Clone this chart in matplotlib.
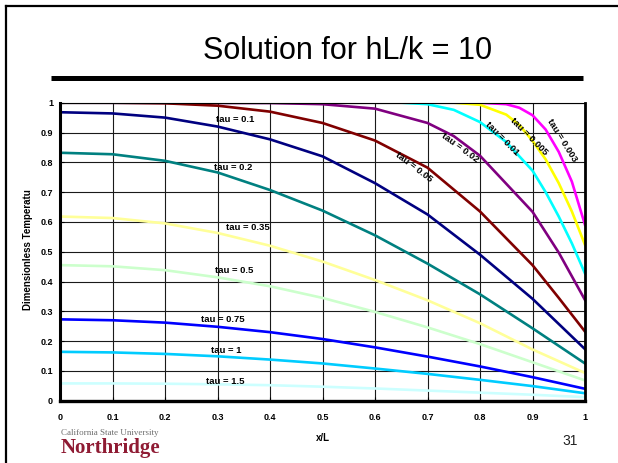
import matplotlib
matplotlib.use("Agg")
import matplotlib.pyplot as plt
from matplotlib.lines import Line2D

# ---------------- data ----------------
x_grid = [0, 0.1, 0.2, 0.3, 0.4, 0.5, 0.6, 0.7, 0.8, 0.9, 1.0]

x_tau0003 = [0, 0.8, 0.85, 0.875, 0.9, 0.925, 0.95, 0.975, 1.0]
y_tau0003 = [1.0, 1.0, 0.995, 0.983, 0.958, 0.91, 0.835, 0.735, 0.59]

x_tau0005 = [0, 0.75, 0.8, 0.85, 0.875, 0.9, 0.925, 0.95, 0.975, 1.0]
y_tau0005 = [1.0, 1.0, 0.993, 0.96, 0.925, 0.872, 0.81, 0.73, 0.635, 0.523]

x_tau001 = [0, 0.65, 0.7, 0.75, 0.8, 0.85, 0.9, 0.925, 0.95, 0.975, 1.0]
y_tau001 = [1.0, 1.0, 0.995, 0.976, 0.935, 0.868, 0.772, 0.7, 0.618, 0.528, 0.427]

x_tau002 = [0, 0.4, 0.5, 0.6, 0.7, 0.75, 0.8, 0.85, 0.9, 0.95, 1.0]
y_tau002 = [1.0, 0.999, 0.995, 0.98, 0.932, 0.888, 0.822, 0.728, 0.634, 0.497, 0.338]

x_tau005 = [0, 0.1, 0.2, 0.3, 0.4, 0.5, 0.6, 0.7, 0.8, 0.85, 0.9, 0.95, 1.0]
y_tau005 = [1.0, 1.0, 0.998, 0.99, 0.97, 0.932, 0.873, 0.782, 0.635, 0.545, 0.455, 0.345, 0.232]

y_tau01 = [0.968, 0.964, 0.95, 0.92, 0.877, 0.82, 0.73, 0.625, 0.49, 0.342, 0.173]
y_tau02 = [0.832, 0.827, 0.805, 0.766, 0.707, 0.638, 0.555, 0.46, 0.357, 0.243, 0.125]
y_tau035 = [0.618, 0.613, 0.595, 0.563, 0.52, 0.467, 0.405, 0.337, 0.26, 0.172, 0.093]
y_tau05 = [0.455, 0.451, 0.438, 0.414, 0.384, 0.345, 0.298, 0.246, 0.19, 0.129, 0.068]
y_tau075 = [0.273, 0.27, 0.262, 0.248, 0.23, 0.207, 0.179, 0.148, 0.115, 0.079, 0.04]
y_tau1 = [0.164, 0.162, 0.157, 0.149, 0.138, 0.125, 0.108, 0.09, 0.07, 0.049, 0.025]
y_tau15 = [0.058, 0.058, 0.057, 0.055, 0.052, 0.047, 0.041, 0.034, 0.027, 0.02, 0.012]

series_labels = ["tau = 0.003", "tau = 0.005", "tau = 0.01", "tau = 0.02",
                 "tau = 0.05", "tau = 0.1", "tau = 0.2", "tau = 0.35",
                 "tau = 0.5", "tau = 0.75", "tau = 1", "tau = 1.5"]
series_x = [x_tau0003, x_tau0005, x_tau001, x_tau002, x_tau005,
            x_grid, x_grid, x_grid, x_grid, x_grid, x_grid, x_grid]
series_y = [y_tau0003, y_tau0005, y_tau001, y_tau002, y_tau005,
            y_tau01, y_tau02, y_tau035, y_tau05, y_tau075, y_tau1, y_tau15]
series_colors = ["#FF00FF", "#FFFF00", "#00FFFF", "#800080",
                 "#800000", "#000080", "#008080", "#FFFF99",
                 "#CCFFCC", "#0000FF", "#00CCFF", "#CCFFFF"]

# label anchor positions (data coords) and rotation
label_pos = [(0.956, 0.875, -58), (0.893, 0.885, -45), (0.842, 0.878, -45),
             (0.762, 0.848, -36), (0.674, 0.784, -37), (0.333, 0.942, 0),
             (0.330, 0.784, 0), (0.358, 0.580, 0), (0.331, 0.438, 0),
             (0.310, 0.274, 0), (0.316, 0.170, 0), (0.314, 0.066, 0)]

tick_vals = [0, 0.1, 0.2, 0.3, 0.4, 0.5, 0.6, 0.7, 0.8, 0.9, 1.0]
tick_labels = ["0", "0.1", "0.2", "0.3", "0.4", "0.5", "0.6", "0.7", "0.8", "0.9", "1"]

# ---------------- figure ----------------
W, H = 618, 463
fig = plt.figure(figsize=(W / 100, H / 100), dpi=100)
fig.patch.set_facecolor("white")

# slide frame (left and top edges)
fig.add_artist(Line2D([5.5 / W, 5.5 / W], [0, 1 - 5.5 / H], transform=fig.transFigure,
                      color="black", lw=1.6))
fig.add_artist(Line2D([5.5 / W, 1.0], [1 - 5.5 / H, 1 - 5.5 / H], transform=fig.transFigure,
                      color="black", lw=1.6))

# title and underline
fig.text(348 / W, 1 - 51 / H, "Solution for hL/k = 10", ha="center", va="center",
         fontsize=22, family="Liberation Sans", color="black")
fig.add_artist(Line2D([51 / W, 583 / W], [1 - 78 / H, 1 - 78 / H], transform=fig.transFigure,
                      color="black", lw=3.6, solid_capstyle="butt"))

ax = fig.add_axes([60 / W, (H - 400.7) / H, 525 / W, 298 / H])
ax.set_xlim(0, 1)
ax.set_ylim(0, 1)

for xs, ys, c in zip(series_x, series_y, series_colors):
    ax.plot(xs, ys, color=c, lw=1.9, solid_joinstyle="round", zorder=3)

for (lx, ly, rot), txt in zip(label_pos, series_labels):
    ax.text(lx, ly, txt, ha="center", va="center", rotation=rot, fontsize=6.8,
            fontweight="bold", family="Liberation Sans", color="black", zorder=5,
            rotation_mode="anchor")

ax.set_xticks(tick_vals)
ax.set_xticklabels(tick_labels)
ax.set_yticks(tick_vals)
ax.set_yticklabels(tick_labels)
ax.grid(True, color="#1a1a1a", lw=0.8, zorder=1)
ax.set_axisbelow(True)
ax.tick_params(axis="both", direction="in", length=3, width=0.8, colors="black",
               labelsize=6.5)
ax.tick_params(axis="x", pad=9)
ax.tick_params(axis="y", pad=5)
for lab in ax.get_xticklabels() + ax.get_yticklabels():
    lab.set_fontweight("bold")
    lab.set_family("Liberation Sans")

ax.spines["left"].set_linewidth(2.2)
ax.spines["bottom"].set_linewidth(2.4)
ax.spines["right"].set_linewidth(2.0)
ax.spines["top"].set_linewidth(0.8)
for s in ax.spines.values():
    s.set_color("black")
    s.set_zorder(6)

fig.text(28 / W, 1 - 250 / H, "Dimensionless Temperatu", rotation=90, ha="center",
         va="center", fontsize=7, fontweight="bold", family="Liberation Sans")
fig.text(323 / W, 1 - 438 / H, "x/L", ha="center", va="center", fontsize=7,
         fontweight="bold", family="Liberation Sans")
fig.text(570 / W, 1 - 441 / H, "31", ha="center", va="center", fontsize=10,
         family="Liberation Sans", color="#222222")

# logo text
fig.text(110 / W, 1 - 433 / H, "California State University", ha="center", va="center",
         fontsize=6.5, family="Liberation Serif", color="#6e6e6e")
fig.text(110 / W, 1 - 448 / H, "Northridge", ha="center", va="center",
         fontsize=15, fontweight="bold", family="Liberation Serif", color="#8f1b33")

fig.savefig("out.png", dpi=100)
